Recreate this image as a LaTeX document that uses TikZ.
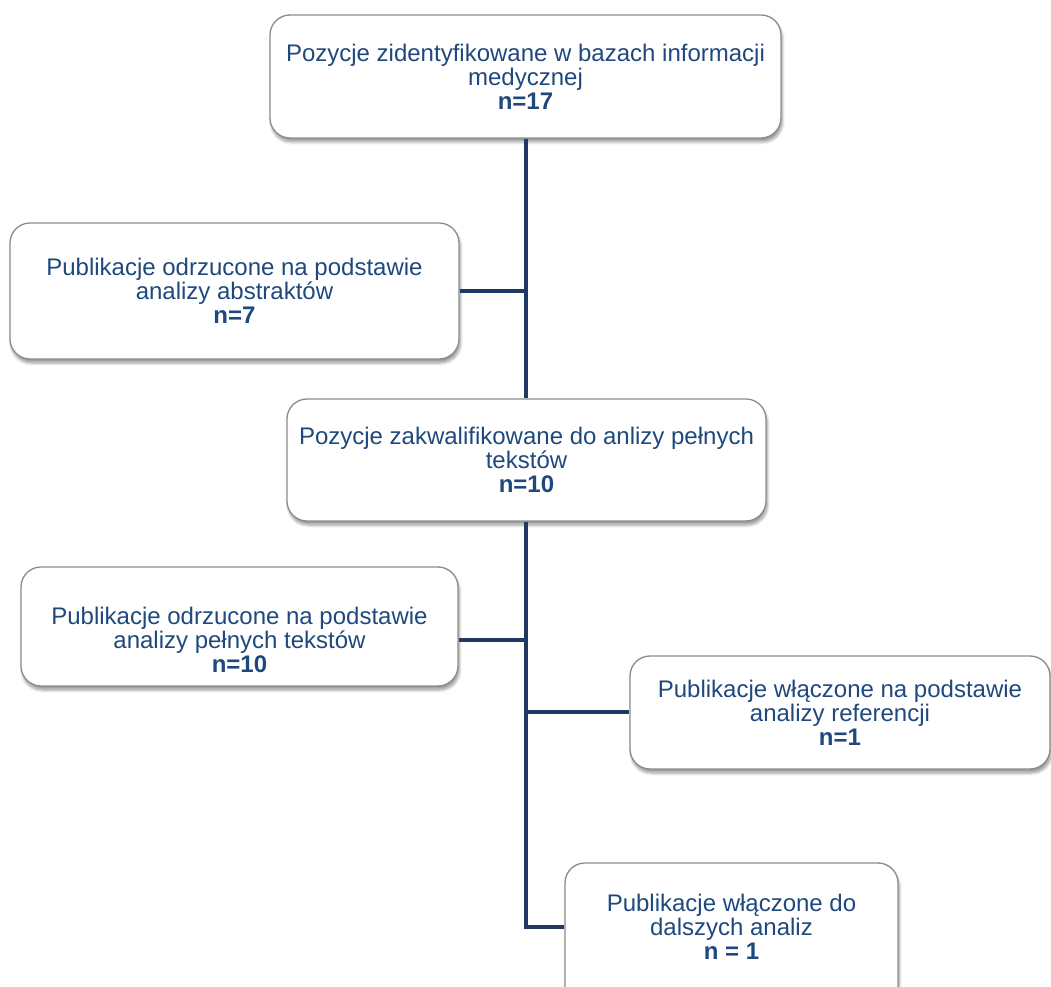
\documentclass[tikz,border=0pt]{standalone}
\usepackage{fontspec}
\setmainfont{Liberation Sans}
\usetikzlibrary{shadows.blur}
\definecolor{txtblue}{RGB}{31,73,125}
\definecolor{linknavy}{RGB}{31,56,100}
\tikzset{every picture/.style={line width=0.75pt}}
\tikzset{
  box/.style={draw={rgb,255:red,140;green,140;blue,140}, fill=white, rounded corners=15pt, line width=1pt,
    blur shadow={shadow xshift=1pt, shadow yshift=-3pt, shadow opacity=40, shadow blur steps=6}},
  txt/.style={align=center, text=txtblue, font=\fontsize{18}{18}\selectfont, inner sep=0pt},
  link/.style={draw=linknavy, line width=3pt}
}
\begin{document}
\begin{tikzpicture}[x=0.75pt,y=0.75pt,yscale=-1,xscale=1]
\useasboundingbox (0,0) rectangle (1051,987);

%Rounded Rect: identified
\node [box, txt, minimum width=383.25pt, minimum height=92.25pt] (poz1) at (525.5,76.5)
  {Pozycje zidentyfikowane w bazach informacji\\medycznej\\\textbf{n=17}};
%Rounded Rect: rejected (abstracts)
\node [box, txt, minimum width=336.75pt, minimum height=102pt] (odrz1) at (234.5,291)
  {Publikacje odrzucone na podstawie\\analizy abstraktów\\\textbf{n=7}};
%Rounded Rect: qualified
\node [box, txt, minimum width=359.25pt, minimum height=91.5pt] (poz2) at (526.5,460)
  {Pozycje zakwalifikowane do anlizy pełnych\\tekstów\\\textbf{n=10}};
%Rounded Rect: rejected (full texts)
\node [box, minimum width=327.75pt, minimum height=89.25pt] (odrz2) at (239.5,626.5) {};
% Text Node
\node [txt] (odrz2txt) at (239.5,640)
  {Publikacje odrzucone na podstawie\\analizy pełnych tekstów\\\textbf{n=10}};
%Rounded Rect: included (references)
\node [box, txt, minimum width=315pt, minimum height=84.75pt] (wlacz1) at (840,712.5)
  {Publikacje włączone na podstawie\\analizy referencji\\\textbf{n=1}};
%Rounded Rect: included (final)
\node [box, minimum width=249.75pt, minimum height=110.25pt] (wlacz2) at (731.5,936.5) {};
% Text Node
\node [txt] (wlacz2txt) at (731.5,927)
  {Publikacje włączone do\\dalszych analiz\\\textbf{n = 1}};

%Straight Lines
\draw [link] (poz1.south) -- (poz1.south |- poz2.north) ;
\draw [link] (odrz1.east) -- (odrz1.east -| poz1.south) ;
\draw [link] ([xshift=-0.75pt]poz2.south) |- (wlacz2txt -| wlacz2.west) ;
\draw [link] (odrz2txt -| odrz2.east) -- (odrz2txt -| poz1.south) ;
\draw [link] (wlacz1.west) -- (wlacz1.west -| poz1.south) ;

\end{tikzpicture}
\end{document}
